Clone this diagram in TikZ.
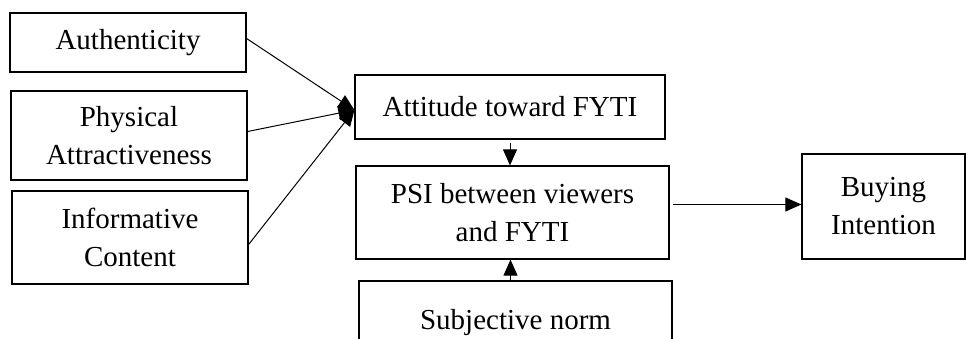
\documentclass[tikz,border=0pt]{standalone}
\usepackage{fontspec}
\setmainfont{Liberation Serif}
\usetikzlibrary{arrows.meta,calc}
\begin{document}
\begin{tikzpicture}[x=1pt,y=-1pt,
 box/.style={draw,line width=1.2pt,inner sep=0pt,align=center,font=\fontsize{29}{38}\selectfont},
 conn/.style={line width=1pt,-{Triangle[length=16pt,width=14pt]}}]
\useasboundingbox (0,0) rectangle (966,339);
\clip (0,0) rectangle (966,339);
\node[box,minimum width=236pt,minimum height=59pt] (auth) at (128,42.5) {Authenticity};
\node[box,minimum width=236pt,minimum height=89pt] (phys) at (129,135.5) {Physical\\Attractiveness};
\node[box,minimum width=236pt,minimum height=93pt] (info) at (130,237.5) {Informative\\Content};
\node[box,minimum width=310pt,minimum height=64pt] (att) at (510,107) {Attitude toward FYTI};
\node[box,minimum width=313pt,minimum height=93pt] (psi) at (512.5,212.5) {PSI between viewers\\and FYTI};
\node[box,minimum width=313pt,minimum height=84pt] (subj) at (515.5,323) {Subjective norm};
\node[box,minimum width=163pt,minimum height=105pt] (buy) at (883.5,206.5) {Buying\\Intention};
\coordinate (tip) at ([yshift=-3pt]att.west);
\draw[conn] ([yshift=4pt]auth.east) -- (tip);
\draw[conn] ([yshift=4pt]phys.east) -- (tip);
\draw[conn] ([yshift=-7pt]info.east) -- (tip);
\draw[conn] ([yshift=-3pt]att.south) -- (att.south |- psi.north);
\coordinate (sx) at ([xshift=-5pt]subj.north);
\draw[conn] (sx) -- (sx |- psi.south);
\coordinate (px) at ([xshift=3pt,yshift=8pt]psi.east);
\draw[conn] (px) -- (px -| buy.west);
\end{tikzpicture}
\end{document}
